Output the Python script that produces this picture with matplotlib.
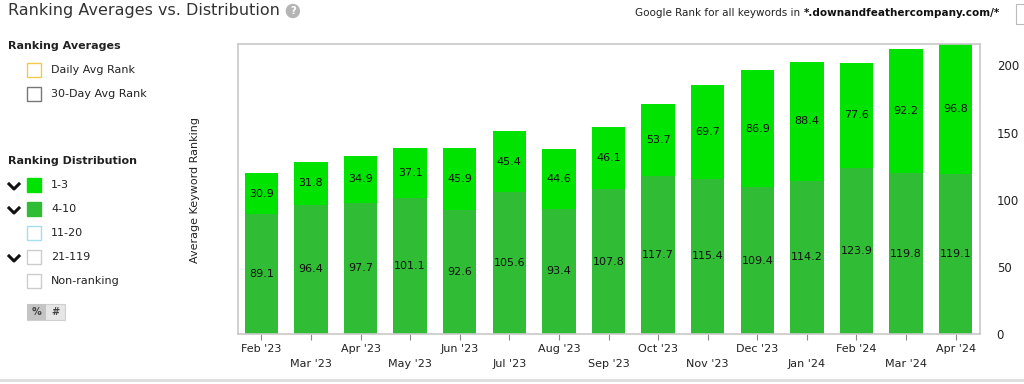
import matplotlib
matplotlib.use("Agg")
import matplotlib.pyplot as plt
import matplotlib.patches as patches
from matplotlib.lines import Line2D
import numpy as np

months = ["Feb '23", "Mar '23", "Apr '23", "May '23", "Jun '23", "Jul '23", "Aug '23",
          "Sep '23", "Oct '23", "Nov '23", "Dec '23", "Jan '24", "Feb '24", "Mar '24", "Apr '24"]
rank_4_10 = [89.1, 96.4, 97.7, 101.1, 92.6, 105.6, 93.4, 107.8, 117.7, 115.4, 109.4, 114.2, 123.9, 119.8, 119.1]
rank_1_3 = [30.9, 31.8, 34.9, 37.1, 45.9, 45.4, 44.6, 46.1, 53.7, 69.7, 86.9, 88.4, 77.6, 92.2, 96.8]
y_ticks = [0, 50, 100, 150, 200]

green_top = "#00e200"
green_bot = "#30bd35"
border = "#c8c8c8"

W, H = 1024, 384

def fx(px):
    return px / W

def fy(py):
    return 1 - py / H

fig = plt.figure(figsize=(10.24, 3.84), dpi=100)
fig.patch.set_facecolor("white")

# 1) main chart
ax = fig.add_axes([fx(238), fy(334), (980 - 238) / W, (334 - 44) / H])
x = np.arange(len(months))
ax.bar(x, rank_4_10, width=0.67, color=green_bot, zorder=2)
ax.bar(x, rank_1_3, width=0.67, bottom=rank_4_10, color=green_top, zorder=2)

for i in range(len(months)):
    ax.text(x[i], rank_4_10[i] / 2, f"{rank_4_10[i]:.1f}", ha="center", va="center",
            fontsize=8, color="#111111", zorder=3)
    ax.text(x[i], rank_4_10[i] + rank_1_3[i] / 2, f"{rank_1_3[i]:.1f}", ha="center",
            va="center", fontsize=8, color="#111111", zorder=3)

totals = np.array(rank_4_10) + np.array(rank_1_3)
ax.set_xlim(-0.47, len(months) - 1 + 0.49)
ax.set_ylim(0, totals.max())

for s in ax.spines.values():
    s.set_color(border)
    s.set_linewidth(1.2)

ax.yaxis.tick_right()
ax.set_yticks(y_ticks)
ax.tick_params(axis="y", length=0, labelsize=8.5, colors="#222222", pad=12)
ax.set_xticks(x)
ax.set_xticklabels([m if i % 2 == 0 else "\n" + m for i, m in enumerate(months)])
ax.tick_params(axis="x", length=4, color="#888888", labelsize=8, colors="#222222", pad=3)
for lbl in ax.get_xticklabels():
    lbl.set_linespacing(1.6)

fig.text(fx(195), fy(190), "Average Keyword Ranking", rotation=90,
         ha="center", va="center", fontsize=8, color="#222222")

# 2) header
title = fig.text(fx(8), fy(11), "Ranking Averages vs. Distribution", fontsize=11.5,
                 color="#333333", va="center")
fig.canvas.draw()
tb = title.get_window_extent()
cx = tb.x1 + 13
fig.patches.append(patches.Ellipse((fx(cx), fy(11)), 13 / W, 13 / H,
                                   transform=fig.transFigure, color="#b5b5b5"))
fig.text(fx(cx), fy(11.5), "?", fontsize=7, color="white", ha="center",
         va="center", weight="bold")

t_bold = fig.text(fx(1000), fy(13), "*.downandfeathercompany.com/*", fontsize=7.5,
                  color="#111111", ha="right", va="center", weight="bold")
fig.canvas.draw()
bb = t_bold.get_window_extent()
fig.text(fx(bb.x0), fy(13), "Google Rank for all keywords in ", fontsize=7.5,
         color="#222222", ha="right", va="center")
fig.patches.append(patches.Rectangle((fx(1016), fy(24)), 12 / W, 20 / H,
                                     transform=fig.transFigure, fill=False,
                                     edgecolor="#bbbbbb", lw=0.8))

# 3) side legend
def box(xp, yp, edge, face="white"):
    fig.patches.append(patches.Rectangle((fx(xp), fy(yp + 7)), 14 / W, 14 / H,
                                         transform=fig.transFigure, facecolor=face,
                                         edgecolor=edge, lw=1))

def chevron(xp, yp):
    fig.lines.append(Line2D([fx(xp), fx(xp + 5), fx(xp + 10)],
                            [fy(yp - 2), fy(yp + 3), fy(yp - 2)],
                            transform=fig.transFigure, color="#111111", lw=2.2))

fig.text(fx(8), fy(46), "Ranking Averages", fontsize=8, weight="bold",
         color="#222222", va="center")
box(27, 70, "#f2c94c")
fig.text(fx(51), fy(70), "Daily Avg Rank", fontsize=8, color="#222222", va="center")
box(27, 94, "#777777")
fig.text(fx(51), fy(94), "30-Day Avg Rank", fontsize=8, color="#222222", va="center")

fig.text(fx(8), fy(161), "Ranking Distribution", fontsize=8, weight="bold",
         color="#222222", va="center")
legend_rows = [("1-3", green_top, green_top, True),
               ("4-10", green_bot, green_bot, True),
               ("11-20", "#a8dcf0", "white", False),
               ("21-119", "#cccccc", "white", True),
               ("Non-ranking", "#cccccc", "white", False)]
for k, (name, edge, face, chev) in enumerate(legend_rows):
    yp = 185 + k * 24
    box(27, yp, edge, face)
    if chev:
        chevron(9, yp + 1)
    fig.text(fx(51), fy(yp), name, fontsize=8, color="#222222", va="center")

# % / # toggle
fig.patches.append(patches.Rectangle((fx(27), fy(320)), 38 / W, 16 / H,
                                     transform=fig.transFigure, facecolor="#e6e6e6",
                                     edgecolor="#d0d0d0", lw=0.8))
fig.patches.append(patches.Rectangle((fx(27), fy(320)), 19 / W, 16 / H,
                                     transform=fig.transFigure, facecolor="#c4c4c4",
                                     edgecolor="none"))
fig.text(fx(36.5), fy(312), "%", fontsize=7, weight="bold", color="#444444",
         ha="center", va="center")
fig.text(fx(55.5), fy(312), "#", fontsize=7, weight="bold", color="#444444",
         ha="center", va="center")

# bottom divider
fig.lines.append(Line2D([0, 1], [fy(380), fy(380)], transform=fig.transFigure,
                        color="#dddddd", lw=2))

fig.savefig("out.png", dpi=100, facecolor="white")
